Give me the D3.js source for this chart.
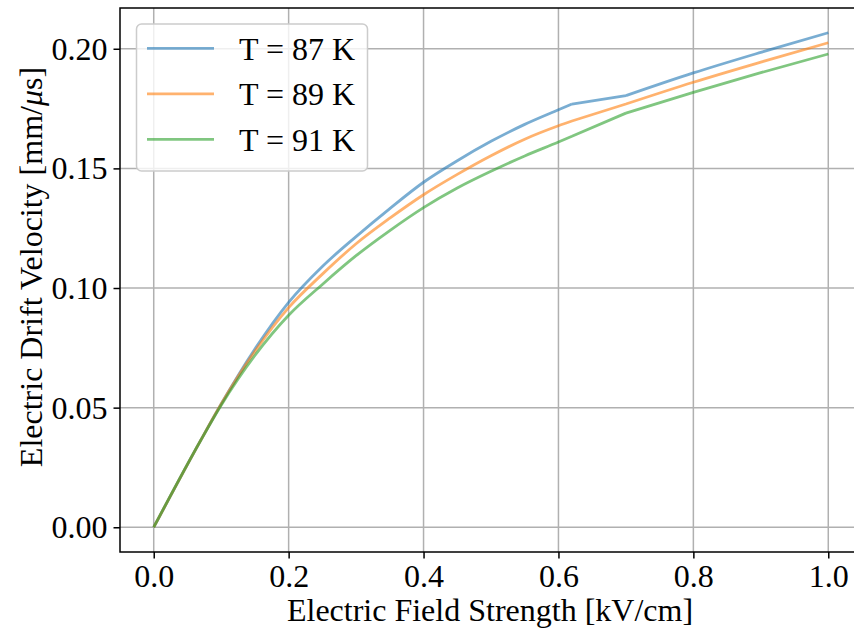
<!DOCTYPE html>
<html>
<head>
<meta charset="utf-8">
<script src="https://cdn.jsdelivr.net/npm/d3@7"></script>
<style>
  html, body { margin: 0; padding: 0; background: #fff; }
  svg { display: block; }
</style>
</head>
<body>
<svg id="chart" width="854" height="630"></svg>
<script>
// field strength in kV/cm
const field = [0, 0.07, 0.1, 0.15, 0.2, 0.25, 0.3, 0.35, 0.4, 0.45, 0.5, 0.55, 0.6, 0.62, 0.7, 0.8, 0.9, 1.0]

// drift velocity in mm/us
const v87 = [0, 0.0365, 0.0515, 0.0745, 0.094, 0.109, 0.1215, 0.1332, 0.1442, 0.1532, 0.1613, 0.1684, 0.1745, 0.1769, 0.1804, 0.1899, 0.1985, 0.2067]
const v89 = [0, 0.0365, 0.0515, 0.0735, 0.0918, 0.1058, 0.1185, 0.1292, 0.139, 0.1475, 0.1553, 0.1622, 0.1678, 0.1698, 0.1769, 0.186, 0.1944, 0.2025]
const v91 = [0, 0.0365, 0.051, 0.0718, 0.0886, 0.1015, 0.1135, 0.124, 0.1336, 0.1418, 0.1488, 0.1552, 0.161, 0.1634, 0.1731, 0.1818, 0.19, 0.1978]

// the curves have corners here (piecewise parametrisation)
const breaks = [0.62, 0.7]

const labels = ['T = 87 K', 'T = 89 K', 'T = 91 K']
const colors = ['#1f77b4', '#ff7f0e', '#2ca02c']

const xTicks = [0, 0.2, 0.4, 0.6, 0.8, 1.0]
const yTicks = [0, 0.05, 0.1, 0.15, 0.2]

const series = [v87, v89, v91].map((vals, i) => ({
  label: labels[i],
  color: colors[i],
  points: field.map((f, j) => [f, vals[j]])
}))

// split each series at the corners so every piece is smoothed on its own
function pieces(points) {
  const edges = [0, ...breaks, Infinity]
  const out = []
  for (let k = 0; k < edges.length - 1; k++) {
    out.push(points.filter(p => p[0] >= edges[k] && p[0] <= edges[k + 1]))
  }
  return out
}

const margin = { left: 120, top: 8 }
const width = 742
const height = 544
const font = '"Liberation Serif", "Times New Roman", serif'
const fs = 32

const svg = d3.select('#chart')

// matplotlib style 5% margins
const yMax = d3.max([v87, v89, v91].flat())
const yPad = yMax * 0.05

const x = d3.scaleLinear()
  .domain([-0.05, 1.05])
  .range([margin.left, margin.left + width])

const y = d3.scaleLinear()
  .domain([-yPad, yMax + yPad])
  .range([margin.top + height, margin.top])

// grid
svg.append('g')
  .selectAll('line')
  .data(xTicks)
  .join('line')
    .attr('x1', d => x(d)).attr('x2', d => x(d))
    .attr('y1', margin.top).attr('y2', margin.top + height)
    .attr('stroke', '#b0b0b0')
    .attr('stroke-width', 1.5)

svg.append('g')
  .selectAll('line')
  .data(yTicks)
  .join('line')
    .attr('x1', margin.left).attr('x2', margin.left + width)
    .attr('y1', d => y(d)).attr('y2', d => y(d))
    .attr('stroke', '#b0b0b0')
    .attr('stroke-width', 1.5)

// lines
const line = d3.line()
  .x(d => x(d[0]))
  .y(d => y(d[1]))
  .curve(d3.curveMonotoneX)

svg.append('g')
  .selectAll('path')
  .data(series)
  .join('path')
    .attr('d', d => pieces(d.points).map(line).join(''))
    .attr('fill', 'none')
    .attr('stroke', d => d.color)
    .attr('stroke-opacity', 0.6)
    .attr('stroke-width', 2.8)
    .attr('stroke-linejoin', 'round')

// axes
const xAxis = d3.axisBottom(x)
  .tickValues(xTicks)
  .tickFormat(d3.format('.1f'))
  .tickSize(6.5)
  .tickPadding(6)

const yAxis = d3.axisLeft(y)
  .tickValues(yTicks)
  .tickFormat(d3.format('.2f'))
  .tickSize(6.5)
  .tickPadding(6)

const gx = svg.append('g')
  .attr('transform', `translate(0, ${margin.top + height})`)
  .call(xAxis)

const gy = svg.append('g')
  .attr('transform', `translate(${margin.left}, 0)`)
  .call(yAxis)

;[gx, gy].forEach(g => {
  g.select('.domain').remove()
  g.selectAll('line').attr('stroke', '#000').attr('stroke-width', 1.5)
  g.selectAll('text')
    .style('font-family', font)
    .style('font-size', `${fs}px`)
    .attr('fill', '#000')
})
gy.selectAll('text').attr('dy', '0.33em')

// spines (right one falls outside the picture)
svg.append('rect')
  .attr('x', margin.left)
  .attr('y', margin.top)
  .attr('width', width)
  .attr('height', height)
  .attr('fill', 'none')
  .attr('stroke', '#000')
  .attr('stroke-width', 1.5)

// axis labels
svg.append('text')
  .attr('x', margin.left + width / 2 - 1)
  .attr('y', 621)
  .attr('text-anchor', 'middle')
  .style('font-family', font)
  .style('font-size', `${fs}px`)
  .text('Electric Field Strength [kV/cm]')

const yl = svg.append('text')
  .attr('transform', `translate(42, 267) rotate(-90)`)
  .attr('text-anchor', 'middle')
  .style('font-family', font)
  .style('font-size', `${fs}px`)
yl.append('tspan').text('Electric Drift Velocity [mm/')
yl.append('tspan').style('font-style', 'italic').text('μ')
yl.append('tspan').text('s]')

// legend
const legend = svg.append('g')

legend.append('rect')
  .attr('x', 136.5)
  .attr('y', 24)
  .attr('width', 231)
  .attr('height', 147)
  .attr('rx', 5)
  .attr('fill', '#fff')
  .attr('fill-opacity', 0.8)
  .attr('stroke', '#cccccc')
  .attr('stroke-width', 1.5)

const item = legend.selectAll('g.item')
  .data(series)
  .join('g')
    .attr('class', 'item')
    .attr('transform', (d, i) => `translate(0, ${48.3 + i * 45.5})`)

item.append('line')
  .attr('x1', 147).attr('x2', 214)
  .attr('stroke', d => d.color)
  .attr('stroke-opacity', 0.6)
  .attr('stroke-width', 2.8)

item.append('text')
  .attr('x', 239)
  .attr('dy', '0.36em')
  .style('font-family', font)
  .style('font-size', `${fs}px`)
  .text(d => d.label)
</script>
</body>
</html>
